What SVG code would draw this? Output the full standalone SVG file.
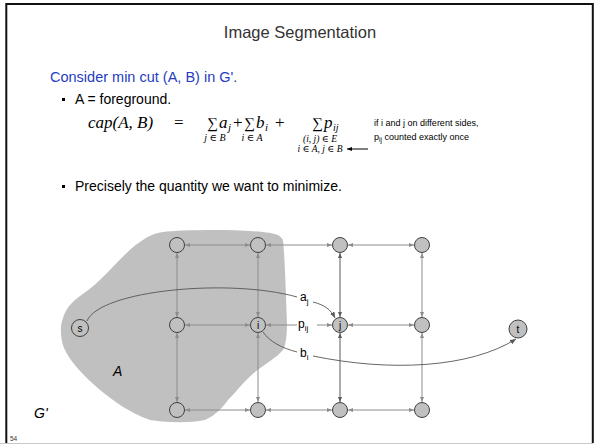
<svg xmlns="http://www.w3.org/2000/svg" width="595" height="444" viewBox="0 0 595 444">
<style>
.t{font-family:"Liberation Sans","DejaVu Sans",sans-serif;fill:#000}
.m{font-family:"Liberation Serif","DejaVu Serif",serif;fill:#000}
.mi{font-family:"Liberation Serif","DejaVu Serif",serif;font-style:italic;fill:#000}
.e{stroke:#8c8c8c;stroke-width:1;fill:none;marker-start:url(#ah);marker-end:url(#ah)}
.ed{stroke:#5a5a5a;stroke-width:1;fill:none;marker-start:url(#ahd);marker-end:url(#ahd)}
.c{stroke:#555;stroke-width:0.9;fill:none}
.n{fill:#c0c0c0;stroke:#404040;stroke-width:1}
.nl{font-family:"Liberation Sans","DejaVu Sans",sans-serif;font-size:10px;text-anchor:middle;fill:#000}
.el{font-family:"Liberation Sans","DejaVu Sans",sans-serif;font-size:12px;fill:#000}
</style>
<defs>
<marker id="ah" viewBox="0 0 10 10" refX="10" refY="5" markerWidth="5" markerHeight="5" markerUnits="userSpaceOnUse" orient="auto-start-reverse"><path d="M0,1 L10,5 L0,9 z" fill="#8c8c8c"/></marker>
<marker id="ahd" viewBox="0 0 10 10" refX="10" refY="5" markerWidth="5" markerHeight="5" markerUnits="userSpaceOnUse" orient="auto-start-reverse"><path d="M0,1 L10,5 L0,9 z" fill="#5a5a5a"/></marker>
<marker id="ac" viewBox="0 0 10 10" refX="10" refY="5" markerWidth="6" markerHeight="6" markerUnits="userSpaceOnUse" orient="auto"><path d="M0,1 L10,5 L0,9 z" fill="#555"/></marker>
<marker id="ak" viewBox="0 0 10 10" refX="10" refY="5" markerWidth="5" markerHeight="5" markerUnits="userSpaceOnUse" orient="auto"><path d="M0,1 L10,5 L0,9 z" fill="#000"/></marker>
</defs>
<rect x="0" y="0" width="595" height="444" fill="#fff"/>
<line x1="0" y1="443.5" x2="593" y2="443.5" stroke="#c8c8c8" stroke-width="1"/>
<path d="M6.3,443 V4 H592.8 V443" fill="none" stroke="#111" stroke-width="2"/>
<text class="t" x="300" y="38" font-size="16.5" text-anchor="middle" style="fill:#333">Image Segmentation</text>
<text class="t" x="50" y="82" font-size="14.5" style="fill:#1f3cbf">Consider min cut (A, B) in G'.</text>
<rect x="62" y="98" width="3" height="3" fill="#000"/>
<text class="t" x="75" y="104" font-size="14">A = foreground.</text>
<text class="mi" x="88" y="128" font-size="17">cap(A, B)</text>
<text class="m" x="174" y="128" font-size="17">=</text>
<text class="m" x="207" y="128" font-size="15">∑</text>
<text class="mi" x="219" y="128" font-size="17">a</text>
<text class="mi" x="228" y="131" font-size="11">j</text>
<text class="m" x="233" y="128" font-size="17">+</text>
<text class="m" x="244" y="128" font-size="15">∑</text>
<text class="mi" x="256" y="128" font-size="17">b</text>
<text class="mi" x="265" y="131" font-size="11">i</text>
<text class="m" x="275" y="128" font-size="17">+</text>
<text class="m" x="312" y="128" font-size="15">∑</text>
<text class="mi" x="324" y="128" font-size="17">p</text>
<text class="mi" x="333" y="130.5" font-size="10">ij</text>
<text class="mi" x="215" y="141" font-size="10" text-anchor="middle">j ∈ B</text>
<text class="mi" x="252" y="141" font-size="10" text-anchor="middle">i ∈ A</text>
<text class="mi" x="320" y="142" font-size="9.5" text-anchor="middle">(i, j) ∈ E</text>
<text class="mi" x="320" y="152" font-size="9.5" text-anchor="middle">i ∈ A,  j ∈ B</text>
<line x1="368" y1="149" x2="347" y2="149" stroke="#000" stroke-width="1" marker-end="url(#ak)"/>
<text class="t" x="374" y="126" font-size="9">if i and j on different sides,</text>
<text class="t" x="374" y="140" font-size="9">p<tspan font-size="6.5" dy="2">ij</tspan><tspan dy="-2"> counted exactly once</tspan></text>
<rect x="62" y="185" width="3" height="3" fill="#000"/>
<text class="t" x="75" y="191" font-size="14">Precisely the quantity we want to minimize.</text>
<path id="regionA" d="M140,242 C148,236 155,233 163,232 C180,230 230,229 263,232 C272,233 280,234 283,240 C285,260 286,300 287,322 C287,335 286,345 283,350 C276,358 268,362 255,372 C245,380 236,392 228,400 C222,408 216,415 205,420 C190,423 170,423 150,420 C130,413 115,402 100,390 C85,377 70,362 64,348 C60,338 60,325 63,318 C66,308 72,302 80,296 C92,288 100,280 108,272 C118,262 128,250 140,242 Z" fill="#c0c0c0"/>
<text class="t" x="113" y="376" font-size="14" font-style="italic">A</text>
<text class="t" x="34" y="418" font-size="14" font-style="italic">G'</text>
<text class="t" x="10" y="441" font-size="6.5" style="fill:#333">54</text>
<g id="connectors">
<line class="e" x1="185" y1="245" x2="250" y2="245"/>
<line class="e" x1="266" y1="245" x2="332" y2="245"/>
<line class="e" x1="348" y1="245" x2="414" y2="245"/>
<line class="e" x1="185" y1="325" x2="250" y2="325"/>
<line class="e" x1="266" y1="325" x2="332" y2="325" style="stroke-dasharray:31 20"/>
<line class="e" x1="348" y1="325" x2="414" y2="325"/>
<line class="e" x1="185" y1="410" x2="250" y2="410"/>
<line class="e" x1="266" y1="410" x2="332" y2="410"/>
<line class="e" x1="348" y1="410" x2="414" y2="410"/>
<line class="e" x1="177" y1="253" x2="177" y2="317"/>
<line class="e" x1="177" y1="333" x2="177" y2="402"/>
<line class="e" x1="258" y1="253" x2="258" y2="317"/>
<line class="e" x1="258" y1="333" x2="258" y2="402"/>
<line class="ed" x1="340" y1="253" x2="340" y2="317"/>
<line class="ed" x1="340" y1="333" x2="340" y2="402"/>
<line class="e" x1="422" y1="253" x2="422" y2="317"/>
<line class="e" x1="422" y1="333" x2="422" y2="402"/>
<path class="c" d="M87,321 C100,290 230,278 297,297"/>
<path class="c" d="M313,302 C325,305 331,310 335,318" marker-end="url(#ac)"/>
<path class="c" d="M263,332 C270,342 282,348 297,352"/>
<path class="c" d="M313,356 C390,372 470,368 516,339" marker-end="url(#ac)"/>
<text class="el" x="300" y="301">a<tspan font-size="8" dy="3">j</tspan></text>
<text class="el" x="298" y="328">p<tspan font-size="8" dy="3">ij</tspan></text>
<text class="el" x="300" y="357">b<tspan font-size="8" dy="3">i</tspan></text>
</g>
<g id="n11"><circle class="n" cx="177" cy="245" r="7.5"/></g>
<g id="n12"><circle class="n" cx="258" cy="245" r="7.5"/></g>
<g id="n13"><circle class="n" cx="340" cy="245" r="7.5"/></g>
<g id="n14"><circle class="n" cx="422" cy="245" r="7.5"/></g>
<g id="n21"><circle class="n" cx="177" cy="325" r="7.5"/></g>
<g id="node-i"><circle class="n" cx="258" cy="325" r="7.5"/><text class="nl" x="258" y="329">i</text></g>
<g id="node-j"><circle class="n" cx="340" cy="325" r="7.5"/><text class="nl" x="340" y="329">j</text></g>
<g id="n24"><circle class="n" cx="422" cy="325" r="7.5"/></g>
<g id="n31"><circle class="n" cx="177" cy="410" r="7.5"/></g>
<g id="n32"><circle class="n" cx="258" cy="410" r="7.5"/></g>
<g id="n33"><circle class="n" cx="340" cy="410" r="7.5"/></g>
<g id="n34"><circle class="n" cx="422" cy="410" r="7.5"/></g>
<g id="node-s"><circle class="n" cx="80" cy="328" r="8.5"/><text class="nl" x="80" y="332">s</text></g>
<g id="node-t"><circle class="n" cx="518" cy="329" r="9"/><text class="nl" x="518" y="333">t</text></g>
</svg>
